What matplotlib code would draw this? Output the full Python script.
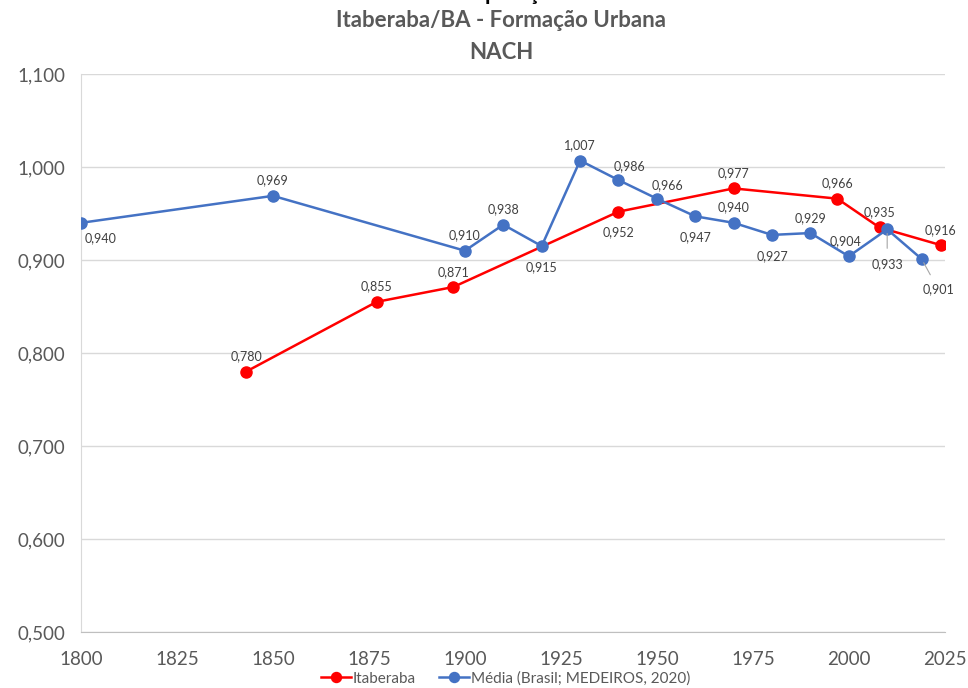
import matplotlib.pyplot as plt
from matplotlib.ticker import FuncFormatter, MultipleLocator

plt.rcParams["font.family"] = ["Lato", "DejaVu Sans"]

# ── dados ────────────────────────────────────────────────────────────
ita_anos = [1843, 1877, 1897, 1940, 1970, 1997, 2008, 2024]
ita_nach = [0.780, 0.855, 0.871, 0.952, 0.977, 0.966, 0.935, 0.916]

media_anos = [1800, 1850, 1900, 1910, 1920, 1930, 1940, 1950, 1960, 1970,
              1980, 1990, 2000, 2010, 2019]
media_nach = [0.940, 0.969, 0.910, 0.938, 0.915, 1.007, 0.986, 0.966, 0.947,
              0.940, 0.927, 0.929, 0.904, 0.933, 0.901]

# deslocamento dos rótulos (pontos de tela)
ita_off = [(0, 11), (0, 11), (0, 11), (0, -15), (0, 11), (0, 11), (0, 11), (0, 11)]
media_off = [(14, -11), (0, 11), (0, 11), (0, 11), (0, -15), (0, 11), (8, 10),
             (8, 10), (0, -15), (0, 11), (0, -15), (0, 11), (-2, 11), (0, -25),
             (12, -22)]

RED = "#FF0000"
BLUE = "#4472C4"
TXT = "#595959"


def fmt(v, _=None):
    return f"{v:.3f}".replace(".", ",")


fig = plt.figure(figsize=(9.68, 6.88), dpi=100)
ax = fig.add_axes([0.0837, 0.0814, 0.8923, 0.811])

ax.plot(ita_anos, ita_nach, color=RED, lw=1.8, marker="o", ms=8,
        label="Itaberaba", zorder=3)
ax.plot(media_anos, media_nach, color=BLUE, lw=1.8, marker="o", ms=8,
        label="Média (Brasil; MEDEIROS, 2020)", zorder=3)

for x, y, (dx, dy) in zip(ita_anos, ita_nach, ita_off):
    ax.annotate(fmt(y), (x, y), xytext=(dx, dy), textcoords="offset points",
                ha="center", va="center", fontsize=9, color="#404040")

for x, y, (dx, dy) in zip(media_anos, media_nach, media_off):
    lead = None
    if abs(dy) > 20:
        lead = dict(arrowstyle="-", color="#A6A6A6", lw=0.8, shrinkA=5, shrinkB=3)
    ax.annotate(fmt(y), (x, y), xytext=(dx, dy), textcoords="offset points",
                ha="center", va="center", fontsize=9, color="#404040",
                arrowprops=lead)

ax.set_xlim(1800, 2025)
ax.set_ylim(0.5, 1.1)
ax.xaxis.set_major_locator(MultipleLocator(25))
ax.yaxis.set_major_locator(MultipleLocator(0.1))
ax.yaxis.set_major_formatter(FuncFormatter(fmt))
ax.grid(axis="y", color="#D9D9D9", lw=1)
ax.set_axisbelow(True)
ax.tick_params(axis="both", length=0, labelsize=13.5, colors=TXT)
ax.tick_params(axis="x", pad=14)
ax.tick_params(axis="y", pad=11)

for side in ("top", "right"):
    ax.spines[side].set_visible(False)
ax.spines["left"].set_color("#D9D9D9")
ax.spines["bottom"].set_color("#BFBFBF")

# título (a primeira linha aparece cortada no topo, como no original)
tx = 0.518
fig.text(tx, 1.01, "Comparação", ha="center", va="center", fontsize=16,
         fontweight="bold", color="black")
fig.text(tx, 0.970, "Itaberaba/BA - Formação Urbana", ha="center", va="center",
         fontsize=16, fontweight="bold", color=TXT)
fig.text(tx, 0.923, "NACH", ha="center", va="center", fontsize=16,
         fontweight="bold", color=TXT)

fig.legend(loc="center", bbox_to_anchor=(0.522, 0.014), ncol=2, frameon=False,
           fontsize=11, labelcolor=TXT, handlelength=2.0, handletextpad=0.1,
           columnspacing=1.5, markerscale=0.9)

fig.savefig("out.png", dpi=100)
